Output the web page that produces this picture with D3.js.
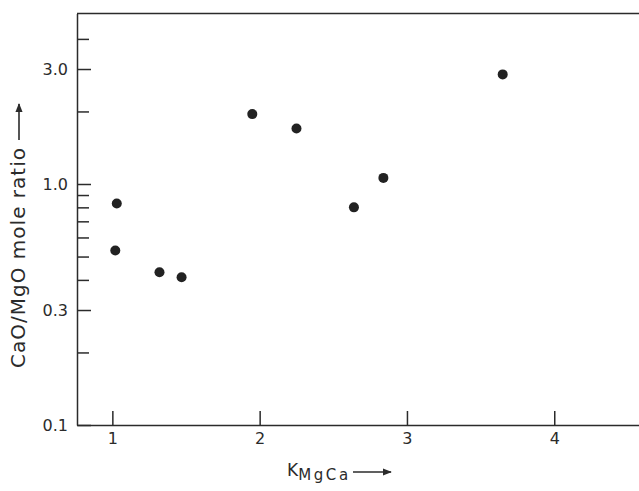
<!DOCTYPE html>
<html>
<head>
<meta charset="utf-8">
<script src="https://cdn.jsdelivr.net/npm/d3@7"></script>
<style>
  html, body { margin: 0; padding: 0; background: #fff; }
  svg { display: block; }
  text { font-family: "DejaVu Sans", sans-serif; fill: #2b2b2b; }
</style>
</head>
<body>
<svg id="chart" width="639" height="491"></svg>
<script>
// Data
const kValues     = [1.03, 1.02, 1.32, 1.47, 1.95, 2.25, 2.64, 2.84, 3.65];
const ratioValues = [0.83, 0.53, 0.43, 0.41, 1.95, 1.70, 0.80, 1.06, 2.85];

const xTicks      = [1, 2, 3, 4];
const xTickLabels = ["1", "2", "3", "4"];
const yMajorTicks = [0.1, 0.3, 1.0, 3.0];
const yMajorLabels = ["0.1", "0.3", "1.0", "3.0"];
const yMinorTicks = [0.2, 0.4, 0.5, 0.6, 0.7, 0.8, 0.9, 2, 4];
const xDomain = [0.76, 4.62];
const yDomain = [0.1, 5.1];

const svg = d3.select("#chart");
const ink = "#2b2b2b";

const left = 77, bottom = 425;
const pxPerUnit = 147.3;
const pxPerDecade = 241;

const x = d3.scaleLinear()
  .domain(xDomain)
  .range([left, left + (xDomain[1] - xDomain[0]) * pxPerUnit]);
const y = d3.scaleLog()
  .domain(yDomain)
  .range([bottom, bottom - Math.log10(yDomain[1] / yDomain[0]) * pxPerDecade]);

// Y axis (major)
const yAxis = d3.axisLeft(y)
  .tickValues(yMajorTicks)
  .tickFormat((d, i) => yMajorLabels[i])
  .tickSize(-14)
  .tickSizeOuter(0)
  .tickPadding(9);
const gy = svg.append("g").attr("transform", `translate(${left},0)`).call(yAxis);
gy.selectAll("text").style("font-size", "16px").attr("fill", ink);

// Y axis minor ticks
const yMinor = d3.axisLeft(y)
  .tickValues(yMinorTicks)
  .tickFormat("")
  .tickSize(-12)
  .tickSizeOuter(0);
const gym = svg.append("g").attr("transform", `translate(${left},0)`).call(yMinor);
gym.select(".domain").remove();

// X axis
const xAxis = d3.axisBottom(x)
  .tickValues(xTicks)
  .tickFormat((d, i) => xTickLabels[i])
  .tickSize(-14)
  .tickSizeOuter(0)
  .tickPadding(8);
const gx = svg.append("g").attr("transform", `translate(0,${bottom})`).call(xAxis);
gx.selectAll("text").style("font-size", "16px").attr("fill", ink);

svg.selectAll(".domain, .tick line").attr("stroke", ink).attr("stroke-width", 1.5);

// Top frame line
svg.append("line")
  .attr("x1", left).attr("x2", x(xDomain[1]))
  .attr("y1", y(yDomain[1])).attr("y2", y(yDomain[1]))
  .attr("stroke", ink).attr("stroke-width", 1.6);

// Points
svg.append("g").selectAll("circle")
  .data(kValues.map((k, i) => [k, ratioValues[i]]))
  .join("circle")
  .attr("cx", d => x(d[0]))
  .attr("cy", d => y(d[1]))
  .attr("r", 5)
  .attr("fill", "#222");

// Arrowhead marker
const defs = svg.append("defs");
defs.append("marker")
  .attr("id", "arr")
  .attr("viewBox", "0 0 10 10")
  .attr("refX", 9).attr("refY", 5)
  .attr("markerWidth", 9).attr("markerHeight", 9)
  .attr("markerUnits", "userSpaceOnUse")
  .attr("orient", "auto")
  .append("path").attr("d", "M0,1 L10,5 L0,9 Z").attr("fill", ink);

// Y label
svg.append("text")
  .attr("transform", "translate(25,368) rotate(-90)")
  .attr("text-anchor", "start")
  .attr("textLength", 220)
  .attr("lengthAdjust", "spacing")
  .style("font-size", "20px")
  .text("CaO/MgO mole ratio");
svg.append("line")
  .attr("x1", 19).attr("x2", 19).attr("y1", 140).attr("y2", 104)
  .attr("stroke", ink).attr("stroke-width", 1.6)
  .attr("marker-end", "url(#arr)");

// X label
const xl = svg.append("text").attr("x", 287).attr("y", 476).style("font-size", "17px");
xl.append("tspan").text("K");
xl.append("tspan").attr("dy", 4).attr("textLength", 50).attr("lengthAdjust", "spacing")
  .style("font-size", "15px").text("MgCa");
svg.append("line")
  .attr("x1", 353).attr("x2", 391).attr("y1", 472).attr("y2", 472)
  .attr("stroke", ink).attr("stroke-width", 1.6)
  .attr("marker-end", "url(#arr)");
</script>
</body>
</html>
